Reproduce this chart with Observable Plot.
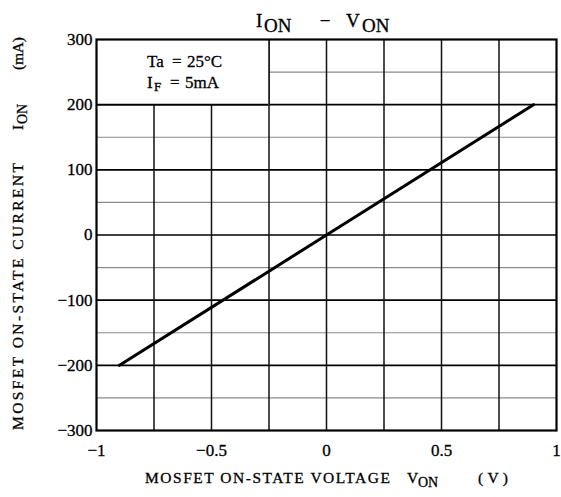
<!DOCTYPE html>
<html>
<head>
<meta charset="utf-8">
<script src="https://cdn.jsdelivr.net/npm/d3@7"></script>
<script src="https://cdn.jsdelivr.net/npm/@observablehq/plot@0.6"></script>
<style>
  html, body { margin: 0; padding: 0; background: #fff; }
  svg { font-family: "Liberation Serif", serif; }
</style>
</head>
<body>
<div id="chart"></div>
<script>
// Data
const vOn = [-0.9, 0, 0.9];          // MOSFET on-state voltage (V)
const iOn = [-200, 0, 200];          // MOSFET on-state current (mA)

const xTickValues = [-1, -0.5, 0, 0.5, 1];
const xTickLabels = ["\u22121", "\u22120.5", "0", "0.5", "1"];
const yTickValues = [-300, -200, -100, 0, 100, 200, 300];
const yTickLabels = ["\u2212300", "\u2212200", "\u2212100", "0", "100", "200", "300"];

const xGrid = [-0.75, -0.5, -0.25, 0, 0.25, 0.5, 0.75];
const yGridMajor = [-200, -100, 0, 100, 200];
const yGridMinor = [-250, -150, -50, 50, 150, 250];

const noteBox = [{x1: -1, x2: -0.25, y1: 200, y2: 300}];

const curve = vOn.map((v, i) => ({v, i: iOn[i]}));

const FONT = "Liberation Serif";
const W = 561, H = 497;
const chart = Plot.plot({
  width: W,
  height: H,
  marginLeft: 96,
  marginRight: 5,
  marginTop: 39,
  marginBottom: 67,
  style: {fontFamily: FONT, fontSize: "17px", color: "#000", background: "#fff"},
  x: {domain: [-1, 1]},
  y: {domain: [-300, 300]},
  marks: [
    Plot.ruleY(yGridMinor, {stroke: "#8a8a8a", strokeWidth: 1.2}),
    Plot.ruleY(yGridMajor, {stroke: "#000", strokeWidth: 1.6}),
    Plot.ruleX(xGrid, {stroke: "#111", strokeWidth: 1.5}),
    Plot.rect(noteBox, {x1: "x1", x2: "x2", y1: "y1", y2: "y2", fill: "#fff", inset: -0.5}),
    Plot.ruleY([200], {x1: -1, x2: -0.25, stroke: "#000", strokeWidth: 1.6}),
    Plot.ruleX([-0.25], {y1: 200, y2: 300, stroke: "#111", strokeWidth: 1.5}),
    Plot.line(curve, {x: "v", y: "i", stroke: "#000", strokeWidth: 3}),
    Plot.frame({stroke: "#000", strokeWidth: 2.2}),
    Plot.axisX({ticks: xTickValues, tickFormat: (d) => xTickLabels[xTickValues.indexOf(d)], tickSize: 0, tickPadding: 13, label: null, fill: "#000"}),
    Plot.axisY({ticks: yTickValues, tickFormat: (d) => yTickLabels[yTickValues.indexOf(d)], tickSize: 0, tickPadding: 4, label: null, fill: "#000"})
  ]
});
document.getElementById("chart").appendChild(chart);

// tick label styling to match reference
chart.querySelectorAll('g[aria-label="x-axis tick label"], g[aria-label="y-axis tick label"]').forEach((el) => {
  el.setAttribute("font-size", "17");
  el.style.fontSize = "17px";
  el.setAttribute("stroke", "#000");
  el.setAttribute("stroke-width", "0.3");
});

const svg = d3.select(chart);

function piece(parent, x, y, txt, size, opts = {}) {
  const t = parent.append("text")
    .attr("x", x).attr("y", y)
    .attr("font-size", size).attr("fill", "#000")
    .attr("stroke", "#000").attr("stroke-width", 0.3)
    .attr("font-family", FONT)
    .attr("text-anchor", opts.anchor || "start")
    .text(txt);
  if (opts.len) t.attr("textLength", opts.len).attr("lengthAdjust", "spacing");
  return t;
}

// Title: I_ON − V_ON
const g = svg.append("g");
piece(g, 256, 27, "I", 19);
piece(g, 264, 32, "ON", 19);
piece(g, 325, 27, "\u2212", 19, {anchor: "middle"});
piece(g, 346, 27, "V", 19);
piece(g, 362, 32, "ON", 19);

// Note box text
piece(g, 147, 67, "Ta", 17);
piece(g, 172, 67, "=", 17);
piece(g, 187, 67, "25°C", 17);
piece(g, 147, 88, "I", 17);
piece(g, 154, 91, "F", 13);
piece(g, 170, 88, "=", 17);
piece(g, 185, 88, "5mA", 17);

// X axis label
piece(g, 145, 483, "MOSFET ON-STATE VOLTAGE", 15.5, {len: 245});
piece(g, 407, 483, "V", 15.5);
piece(g, 418, 487, "ON", 14);
piece(g, 478, 483, "(V)", 15.5, {len: 30});

// Y axis label (rotated)
const yg = svg.append("g").attr("transform", "translate(23,0) rotate(-90)");
piece(yg, -430, 0, "MOSFET ON-STATE CURRENT", 15.5, {len: 267});
piece(yg, -130, 0, "I", 15.5);
piece(yg, -124, 4, "ON", 14);
piece(yg, -70, 0, "(mA)", 15.5, {len: 33});
</script>
</body>
</html>
